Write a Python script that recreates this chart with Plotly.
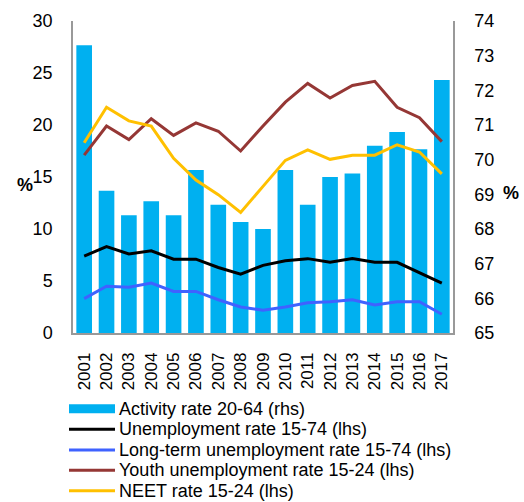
import plotly.graph_objects as go

years = [str(y) for y in range(2001, 2018)]
activity = [73.3, 69.1, 68.4, 68.8, 68.4, 69.7, 68.7, 68.2, 68.0, 69.7, 68.7, 69.5, 69.6, 70.4, 70.8, 70.3, 72.3]
unemp = [7.4, 8.3, 7.6, 7.9, 7.1, 7.1, 6.3, 5.65, 6.5, 6.95, 7.15, 6.8, 7.15, 6.8, 6.8, 5.8, 4.8]
longterm = [3.3, 4.5, 4.4, 4.8, 4.0, 4.0, 3.2, 2.5, 2.2, 2.5, 2.9, 3.0, 3.2, 2.7, 3.0, 3.0, 1.8]
youth = [17.1, 19.9, 18.6, 20.6, 19.0, 20.2, 19.4, 17.5, 19.9, 22.2, 24.0, 22.6, 23.8, 24.2, 21.7, 20.7, 18.4]
neet = [18.3, 21.7, 20.4, 19.9, 16.8, 14.7, 13.3, 11.6, 14.1, 16.6, 17.6, 16.7, 17.1, 17.1, 18.1, 17.4, 15.3]

bar_name = "Activity rate 20-64 (rhs)"
bar_color = "#00B0F0"
line_series = [
    ("Unemployment rate 15-74 (lhs)", unemp, "#000000"),
    ("Long-term unemployment rate 15-74 (lhs)", longterm, "#3F62FF"),
    ("Youth unemployment rate 15-24 (lhs)", youth, "#953735"),
    ("NEET rate 15-24 (lhs)", neet, "#FFC000"),
]

FONT = "Liberation Sans, Arial, sans-serif"
W, H = 524, 502
ML, MR, MT, MB = 73, 71, 21, 169
pw, ph = W - ML - MR, H - MT - MB


def px2paper(px, py):
    return (px - ML) / pw, (H - MB - py) / ph


fig = go.Figure()
fig.add_trace(go.Bar(x=years, y=activity, name=bar_name,
                     marker=dict(color=bar_color, line=dict(width=0)), yaxis="y"))
for name, vals, col in line_series:
    fig.add_trace(go.Scatter(x=years, y=vals, name=name, mode="lines",
                             line=dict(color=col, width=3), yaxis="y2"))

fig.update_layout(
    width=W, height=H,
    margin=dict(l=ML, r=MR, t=MT, b=MB, autoexpand=False),
    paper_bgcolor="white", plot_bgcolor="white",
    font=dict(family=FONT, size=17, color="black"),
    bargap=0.3,
    showlegend=False,
    xaxis=dict(type="category", tickangle=-90, showline=True, linecolor="#999999",
               linewidth=1.5, ticks="", tickfont=dict(size=17), showgrid=False,
               ticklabelstandoff=11),
    yaxis=dict(range=[65, 74], dtick=1, side="right", showline=True,
               linecolor="#999999", linewidth=1.5, showgrid=False, zeroline=False,
               ticks="", ticklabelstandoff=16, tickfont=dict(size=18)),
    yaxis2=dict(range=[0, 30], dtick=5, side="left", overlaying="y", showline=True,
                linecolor="#999999", linewidth=1.5, showgrid=False, zeroline=False,
                ticks="", ticklabelstandoff=15, tickfont=dict(size=18)),
)

# axis unit labels
for px, py in [(25, 185), (511, 193)]:
    x, y = px2paper(px, py)
    fig.add_annotation(text="<b>%</b>", showarrow=False, font=dict(size=18),
                       x=x, y=y, xref="paper", yref="paper",
                       xanchor="center", yanchor="middle")

# legend (drawn below the plot, Excel-style compact spacing)
leg_rows = [408.7, 429.3, 450.0, 470.3, 490.7]
sx0, sx1, tx = 69, 115, 119
entries = [(bar_name, bar_color, "bar")] + [(n, c, "line") for n, _, c in line_series]
for (name, col, kind), ry in zip(entries, leg_rows):
    x0, y0 = px2paper(sx0, ry)
    x1, _ = px2paper(sx1, ry)
    if kind == "bar":
        _, yt = px2paper(0, ry - 4.5)
        _, yb = px2paper(0, ry + 4.5)
        fig.add_shape(type="rect", xref="paper", yref="paper", x0=x0, x1=x1,
                      y0=yb, y1=yt, fillcolor=col, line=dict(width=0))
    else:
        fig.add_shape(type="line", xref="paper", yref="paper", x0=x0, x1=x1,
                      y0=y0, y1=y0, line=dict(color=col, width=3))
    xt, yt = px2paper(tx, ry)
    fig.add_annotation(text=name, showarrow=False, font=dict(size=18),
                       x=xt, y=yt, xref="paper", yref="paper",
                       xanchor="left", yanchor="middle", xshift=-2)

fig.write_html("out.html", config={"displayModeBar": False},
               post_script="document.body.style.margin='0';")
